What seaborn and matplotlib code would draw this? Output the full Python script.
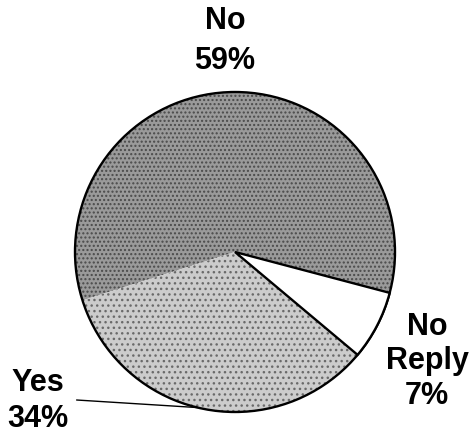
import numpy as np
import matplotlib
matplotlib.use('Agg')
import matplotlib.pyplot as plt
import seaborn as sns

# survey answers, order follows the pie going counter-clockwise
answers = ['No Reply', 'No', 'Yes']
shares = [7, 59, 34]
label_text = ['No\nReply\n7%', 'No\n59%', 'Yes\n34%']

sns.set_theme(style='white')
plt.rcParams['font.family'] = ['Liberation Sans', 'DejaVu Sans']

fills = ['white', '#9a9a9a', '#cccccc']

fig = plt.figure(figsize=(4.73, 4.39), dpi=100)
ax = fig.add_axes([0, 0, 1, 1])

# stippled slices without a border between No and Yes
wedges, _ = ax.pie(shares, startangle=-40, colors=fills, radius=1,
                   wedgeprops=dict(linewidth=0))
wedges[0].set_edgecolor('black')
wedges[0].set_linewidth(1.7)
wedges[0].set_zorder(5)
wedges[1].set_hatch('....')
wedges[1].set_edgecolor('#4a4a4a')
wedges[2].set_hatch('...')
wedges[2].set_edgecolor('#6a6a6a')

# outer ring
ax.pie([sum(shares)], radius=1, colors=['none'],
       wedgeprops=dict(edgecolor='black', linewidth=1.7, fill=False))

# labels
txt = dict(ha='center', va='center', fontsize=22, fontweight='bold',
           color='black')
ax.text(-0.0625, 1.325, label_text[1], linespacing=1.45, **txt)
ax.text(1.2, -0.678, label_text[0], linespacing=1.2, **txt)
ax.text(-1.23, -0.925, label_text[2], linespacing=1.3, **txt)

# leader line for Yes
ang = np.deg2rad(-103.5)
ax.annotate('', xy=(np.cos(ang), np.sin(ang)), xytext=(-0.99, -0.925),
            arrowprops=dict(arrowstyle='-', color='black', lw=1.0,
                            shrinkA=0, shrinkB=0))

ax.set_xlim(-235 / 160, (473 - 235) / 160)
ax.set_ylim(-(439 - 253) / 160, 253 / 160)
ax.set_aspect('auto')
ax.axis('off')

fig.savefig('out.png', dpi=100)
